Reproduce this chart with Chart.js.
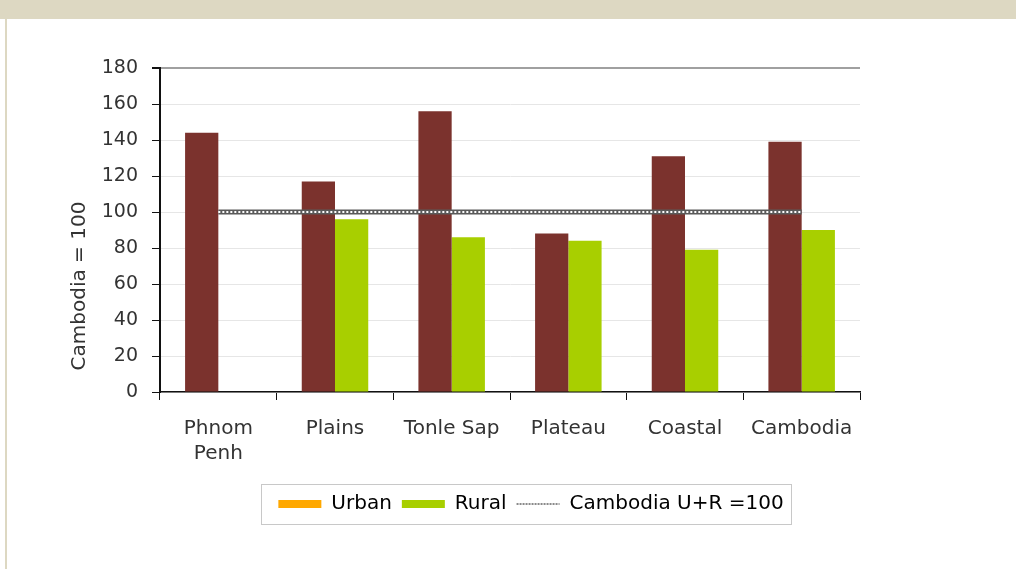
<!DOCTYPE html>
<html>
<head>
<meta charset="utf-8">
<title>Urban and rural index by region</title>
<script src="https://cdn.jsdelivr.net/npm/chart.js@4.4.1/dist/chart.umd.min.js"></script>
<style>
  html, body { margin: 0; padding: 0; background: #fff; }
  body { width: 1016px; height: 569px; position: relative; overflow: hidden; font-family: "DejaVu Sans", Verdana, sans-serif; }
  .top-band { position: absolute; left: 0; top: 0; width: 1016px; height: 19px; background: #ddd8c2; }
  .left-rule { position: absolute; left: 5px; top: 19px; width: 2px; height: 550px; background: #ddd8c2; }
  .chart-box { position: absolute; left: 0; top: 0; width: 1016px; height: 569px; }
</style>
</head>
<body>
<div class="top-band"></div>
<div class="left-rule"></div>
<div class="chart-box"><canvas id="regionChart"></canvas></div>

<script>
// Regions along the x axis
const regions = [["Phnom", "Penh"], "Plains", "Tonle Sap", "Plateau", "Coastal", "Cambodia"];

// Index values, Cambodia = 100
const urbanValues = [144, 117, 156, 88, 131, 139];
const ruralValues = [null, 96, 86, 84, 79, 90];
const referenceValues = [100, 100, 100, 100, 100, 100];

// Y axis range
const yMin = 0;
const yMax = 180;
const yStep = 20;
const yTitle = "Cambodia = 100";

const urbanBarColor = "#7b322d";
const urbanKeyColor = "#ffa800";
const ruralColor = "#a8cf00";

const fontFamily = "'DejaVu Sans', Verdana, sans-serif";
const font = { family: fontFamily, size: 20 };

// Legend sits a bit right of the plot centre
const legendShift = {
  id: "legendShift",
  afterLayout(chart) {
    chart.legend.left += 70;
    chart.legend.right += 70;
  },
};

// Box around the legend items
const legendFrame = {
  id: "legendFrame",
  afterDraw(chart) {
    const boxes = chart.legend.legendHitBoxes;
    if (!boxes || !boxes.length) return;
    const left = Math.min(...boxes.map((b) => b.left)) - 17;
    const right = Math.max(...boxes.map((b) => b.left + b.width)) + 8;
    const top = boxes[0].top - 10;
    const bottom = boxes[0].top + boxes[0].height + 10;
    const ctx = chart.ctx;
    ctx.save();
    ctx.strokeStyle = "#c8c8c8";
    ctx.lineWidth = 1;
    ctx.strokeRect(Math.round(left) + 0.5, Math.round(top) + 0.5, Math.round(right - left), Math.round(bottom - top));
    ctx.restore();
  },
};

// Rotated y axis title, placed lower than the axis middle
const yAxisTitle = {
  id: "yAxisTitle",
  afterDraw(chart) {
    const area = chart.chartArea;
    const ctx = chart.ctx;
    ctx.save();
    ctx.translate(80, area.bottom - 106);
    ctx.rotate(-Math.PI / 2);
    ctx.font = `20px ${fontFamily}`;
    ctx.fillStyle = "#333";
    ctx.textAlign = "center";
    ctx.textBaseline = "middle";
    ctx.fillText(yTitle, 0, 0);
    ctx.restore();
  },
};

function initChart() {
  const ctx = document.getElementById("regionChart").getContext("2d");
  new Chart(ctx, {
    data: {
      labels: regions,
      datasets: [
        {
          // white dots on top of the grey band
          type: "line",
          label: "Cambodia U+R =100 dots",
          data: referenceValues,
          borderColor: "#ffffff",
          borderWidth: 2,
          borderDash: [2, 2],
          pointRadius: 0,
          order: 0,
        },
        {
          type: "line",
          label: "Cambodia U+R =100",
          data: referenceValues,
          borderColor: "#5a5a5a",
          borderWidth: 5,
          pointRadius: 0,
          order: 1,
        },
        {
          type: "bar",
          label: "Urban",
          data: urbanValues,
          backgroundColor: urbanBarColor,
          categoryPercentage: 0.57,
          barPercentage: 1,
          order: 2,
        },
        {
          type: "bar",
          label: "Rural",
          data: ruralValues,
          backgroundColor: ruralColor,
          categoryPercentage: 0.57,
          barPercentage: 1,
          order: 2,
        },
      ],
    },
    options: {
      responsive: true,
      maintainAspectRatio: false,
      animation: false,
      layout: { padding: { left: 62, top: 68, right: 156, bottom: 45 } },
      plugins: {
        tooltip: { enabled: false },
        legend: {
          position: "bottom",
          labels: {
            font: font,
            color: "#222",
            usePointStyle: true,
            pointStyleWidth: 43,
            boxHeight: 8,
            padding: 10,
            generateLabels: () => [
              { text: "Urban", fillStyle: urbanKeyColor, strokeStyle: urbanKeyColor, lineWidth: 0, pointStyle: "rect", datasetIndex: 2 },
              { text: "Rural", fillStyle: ruralColor, strokeStyle: ruralColor, lineWidth: 0, pointStyle: "rect", datasetIndex: 3 },
              { text: "Cambodia U+R =100", fillStyle: "#fff", strokeStyle: "#8a8a8a", lineWidth: 2, lineDash: [2, 1], pointStyle: "line", datasetIndex: 1 },
            ],
          },
        },
      },
      scales: {
        x: {
          offset: true,
          afterFit: (scale) => { scale.height = 92; },
          grid: {
            offset: true,
            drawOnChartArea: false,
            drawTicks: true,
            tickLength: 8,
            tickColor: "#111",
          },
          border: { color: "#111", width: 1.5 },
          ticks: { font: { ...font, lineHeight: 1.25 }, color: "#333", padding: 16, maxRotation: 0 },
        },
        y: {
          min: yMin,
          max: yMax,
          afterFit: (scale) => { scale.width = 160 - 62; },
          grid: {
            color: (c) => (c.tick && c.tick.value === yMax ? "#a0a0a0" : "#e6e6e6"),
            lineWidth: (c) => (c.tick && c.tick.value === yMax ? 2 : 1),
            tickLength: 8,
            tickColor: "#111",
          },
          border: { color: "#111", width: 2 },
          ticks: { stepSize: yStep, font: { ...font, size: 19 }, color: "#333", padding: 14 },
        },
      },
    },
    plugins: [legendShift, legendFrame, yAxisTitle],
  });
}

document.addEventListener("DOMContentLoaded", initChart);
</script>
</body>
</html>
